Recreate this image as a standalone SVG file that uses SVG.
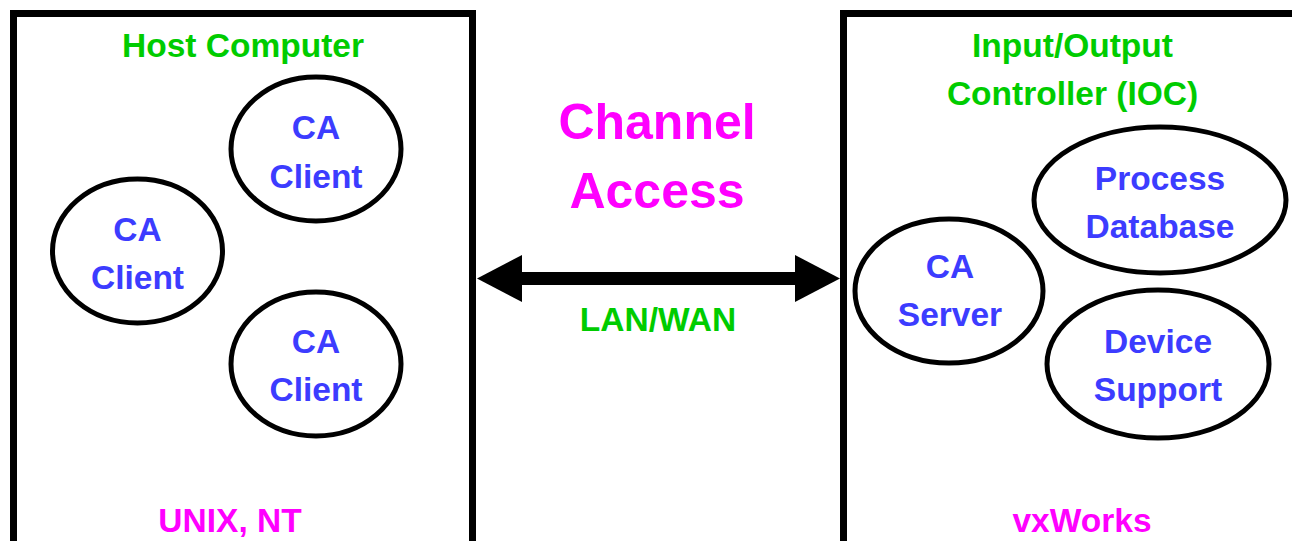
<svg xmlns="http://www.w3.org/2000/svg" width="1292" height="541" viewBox="0 0 1292 541">
  <defs>
    <style>
      .box { fill: none; stroke: #000; stroke-width: 7; }
      .node { fill: none; stroke: #000; stroke-width: 5; }
      text { font-family: "Liberation Sans", Arial, sans-serif; font-weight: bold; text-anchor: middle; }
      .title { fill: #00cc00; font-size: 33.5px; }
      .os { fill: #ff00ff; font-size: 33.5px; }
      .lbl { fill: #3c3cff; font-size: 33.5px; }
      .big { fill: #ff00ff; font-size: 50px; }
      .net { fill: #00cc00; font-size: 33.5px; }
    </style>
  </defs>
  <rect width="1292" height="541" fill="#fff"/>

  <!-- Host computer -->
  <g id="host">
    <rect class="box" x="13.5" y="13.5" width="459" height="531"/>
    <text class="title" x="243" y="57">Host Computer</text>
    <text class="os" x="230" y="532">UNIX, NT</text>
  </g>
  <g id="client1">
    <ellipse class="node" cx="316" cy="149" rx="85" ry="72"/>
    <text class="lbl" x="316" y="139">CA</text>
    <text class="lbl" x="316" y="188">Client</text>
  </g>
  <g id="client2">
    <ellipse class="node" cx="137.5" cy="251" rx="85" ry="72"/>
    <text class="lbl" x="137.5" y="241">CA</text>
    <text class="lbl" x="137.5" y="289">Client</text>
  </g>
  <g id="client3">
    <ellipse class="node" cx="316" cy="364" rx="85" ry="72"/>
    <text class="lbl" x="316" y="353">CA</text>
    <text class="lbl" x="316" y="401">Client</text>
  </g>

  <!-- IOC -->
  <g id="ioc">
    <rect class="box" x="843.5" y="13.5" width="470" height="531"/>
    <text class="title" x="1072.5" y="57">Input/Output</text>
    <text class="title" x="1072.5" y="105">Controller (IOC)</text>
    <text class="os" x="1082" y="532">vxWorks</text>
  </g>
  <g id="database">
    <ellipse class="node" cx="1160" cy="200" rx="126" ry="73"/>
    <text class="lbl" x="1160" y="190">Process</text>
    <text class="lbl" x="1160" y="238">Database</text>
  </g>
  <g id="server">
    <ellipse class="node" cx="949" cy="291" rx="94" ry="72"/>
    <text class="lbl" x="950" y="278">CA</text>
    <text class="lbl" x="950" y="326">Server</text>
  </g>
  <g id="device">
    <ellipse class="node" cx="1158" cy="364" rx="111" ry="74"/>
    <text class="lbl" x="1158" y="353">Device</text>
    <text class="lbl" x="1158" y="401">Support</text>
  </g>

  <!-- Channel Access link -->
  <g id="connectors">
    <rect x="520" y="272" width="278" height="13" fill="#000"/>
    <polygon points="477,278.5 522,255 522,302" fill="#000"/>
    <polygon points="840,278.5 795,255 795,302" fill="#000"/>
  </g>
  <g id="link-labels">
    <text class="big" x="657" y="139">Channel</text>
    <text class="big" x="657" y="208">Access</text>
    <text class="net" x="658" y="331">LAN/WAN</text>
  </g>
</svg>
